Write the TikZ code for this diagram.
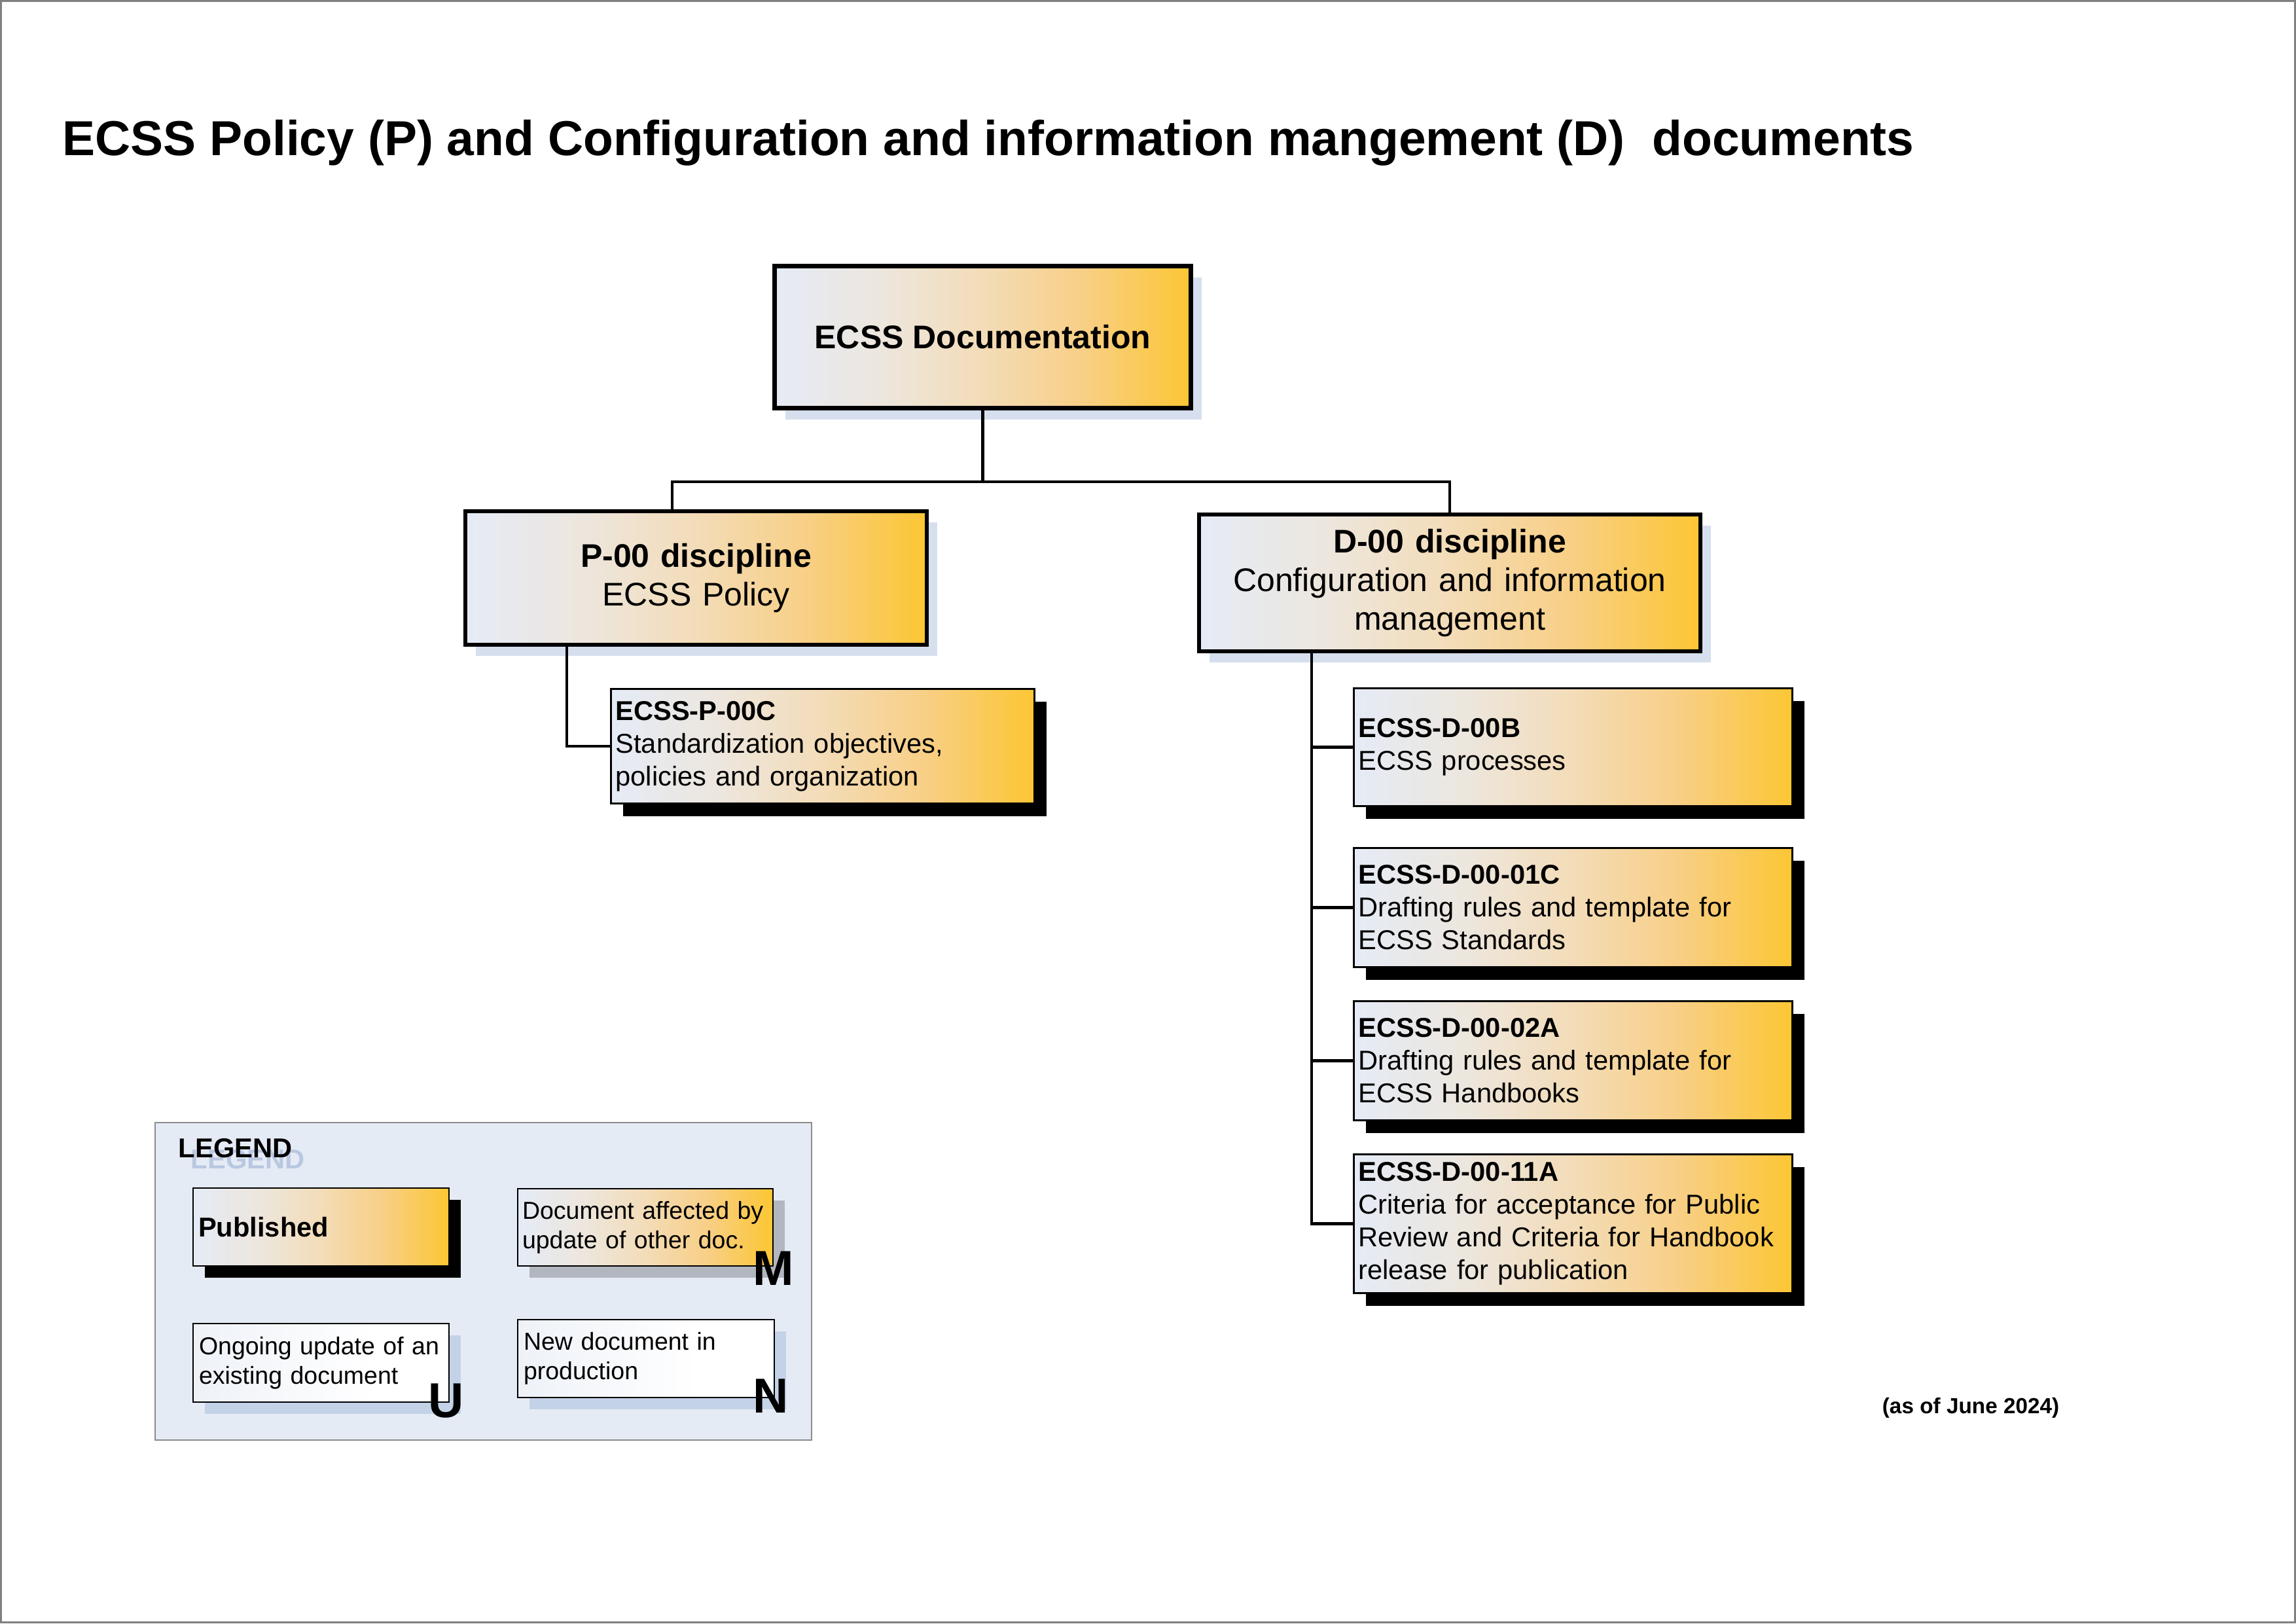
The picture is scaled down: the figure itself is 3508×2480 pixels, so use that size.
\documentclass[tikz,border=0pt]{standalone}
\usepackage{fontspec}
\setmainfont{Liberation Sans}
\usetikzlibrary{shadows}
\definecolor{gA}{HTML}{E5EBF6}
\definecolor{gB}{HTML}{EDE6DD}
\definecolor{gC}{HTML}{F3DCB8}
\definecolor{gD}{HTML}{F8CF86}
\definecolor{gE}{HTML}{FCC633}
\definecolor{wA}{HTML}{EEF2F8}
\definecolor{shblue}{HTML}{D6DFEE}
\definecolor{shlblue}{HTML}{C4D2E8}
\definecolor{shgray}{HTML}{B2B6BE}
\definecolor{legbg}{HTML}{E5EBF5}
\definecolor{legborder}{HTML}{8C8C8C}
\definecolor{legshadow}{HTML}{B9C8E0}
\definecolor{pageline}{HTML}{808080}
\pgfdeclarehorizontalshading{goldfill}{100bp}{color(0bp)=(gA); color(25bp)=(gA); color(38bp)=(gB); color(50bp)=(gC); color(62bp)=(gD); color(75bp)=(gE); color(100bp)=(gE)}
\pgfdeclarehorizontalshading{whitefill}{100bp}{color(0bp)=(wA); color(25bp)=(wA); color(60bp)=(white); color(100bp)=(white)}
\begin{document}
\begin{tikzpicture}[x=0.24pt,y=-0.24pt,
  topbox/.style={draw, line width=1.8pt, shade, shading=goldfill, inner sep=0pt,
    general shadow={shadow xshift=3.84pt, shadow yshift=-4.08pt, fill=shblue},
    font=\fontsize{12}{14.4}\selectfont\bfseries},
  discbox/.style={draw, line width=1.44pt, shade, shading=goldfill, inner sep=0pt, align=center,
    general shadow={shadow xshift=3.84pt, shadow yshift=-4.08pt, fill=shblue},
    font=\fontsize{12}{14.16}\selectfont},
  docbox/.style={draw, line width=0.72pt, shade, shading=goldfill, inner sep=0pt, align=left,
    general shadow={shadow xshift=4.32pt, shadow yshift=-4.56pt, fill=black},
    font=\fontsize{10}{12}\selectfont},
  legbox/.style={draw, line width=0.6pt, inner sep=0pt, align=left,
    font=\fontsize{9}{10.8}\selectfont},
  bigletter/.style={font=\fontsize{18}{21.6}\selectfont\bfseries, inner sep=0pt, anchor=base west},
  conn/.style={line width=1.08pt}
]
\useasboundingbox (0,0) rectangle (3508,2480);
\draw[pageline, line width=0.6pt] (1.5,1.5) rectangle (3506.5,2478.5);

% title
\node[anchor=base west, inner sep=0pt, font=\fontsize{18}{21.6}\selectfont\bfseries] (title) at (94.5,237)
  {ECSS Policy (P) and Configuration and information mangement (D)\ \ documents};

% hierarchy boxes
\node[topbox, minimum width={636*0.24pt}, minimum height={217*0.24pt}] (top) at (1501.5,515) {ECSS Documentation};

\node[discbox, minimum width={705*0.24pt}, minimum height={204*0.24pt}, text width={685*0.24pt}] (p00) at (1063.5,883)
  {\textbf{P-00 discipline}\\ECSS Policy};
\node[discbox, minimum width={766*0.24pt}, minimum height={209*0.24pt}, text width={746*0.24pt}] (d00) at (2215,890.5)
  {\textbf{D-00 discipline}\\Configuration and information\\management};

\node[docbox, minimum width={647*0.24pt}, minimum height={175*0.24pt}, text width={633*0.24pt}] (p00c) at (1257,1140)
  {\textbf{ECSS-P-00C}\\Standardization objectives,\\policies and organization};

\node[docbox, minimum width={670*0.24pt}, minimum height={180*0.24pt}, text width={656*0.24pt}] (d00b) at (2403.5,1141.5)
  {\textbf{ECSS-D-00B}\\ECSS processes};
\node[docbox, minimum width={670*0.24pt}, minimum height={182*0.24pt}, text width={656*0.24pt}] (d01c) at (2403.5,1386.5)
  {\textbf{ECSS-D-00-01C}\\Drafting rules and template for\\ECSS Standards};
\node[docbox, minimum width={670*0.24pt}, minimum height={182*0.24pt}, text width={656*0.24pt}] (d02a) at (2403.5,1620.5)
  {\textbf{ECSS-D-00-02A}\\Drafting rules and template for\\ECSS Handbooks};
\node[docbox, minimum width={670*0.24pt}, minimum height={212*0.24pt}, text width={656*0.24pt}] (d11a) at (2403.5,1869.5)
  {\textbf{ECSS-D-00-11A}\\Criteria for acceptance for Public\\Review and Criteria for Handbook\\release for publication};

% connectors
\coordinate (busL) at (1027,736);
\coordinate (busR) at (2215,736);
\coordinate (pT) at (866,0);
\coordinate (dT) at (2004,0);
\draw[conn] (top.south) -- (top.south |- busL);
\draw[conn] (busL |- p00.north) -- (busL) -- (busR) -- (d00.north);
\draw[conn] (pT |- p00.south) |- (p00c.west);
\draw[conn] (dT |- d00.south) |- (d11a.west);
\draw[conn] (dT |- d00b.west) -- (d00b.west);
\draw[conn] (dT |- d01c.west) -- (d01c.west);
\draw[conn] (dT |- d02a.west) -- (d02a.west);

% legend
\node[draw=legborder, fill=legbg, line width=0.5pt, inner sep=0pt,
  minimum width={1003*0.24pt}, minimum height={485*0.24pt}] (legend) at (738.5,1957.5) {};
\node[anchor=base west, inner sep=0pt, text=legshadow, font=\fontsize{10}{12}\selectfont\bfseries] (legsh) at (291,1785) {LEGEND};
\node[anchor=base west, inner sep=0pt, font=\fontsize{10}{12}\selectfont\bfseries] (legt) at (272,1768) {LEGEND};

\node[legbox, shade, shading=goldfill, general shadow={shadow xshift=4.32pt, shadow yshift=-4.32pt, fill=black},
  minimum width={391*0.24pt}, minimum height={119*0.24pt}, text width={375*0.24pt},
  font=\fontsize{10}{12}\selectfont\bfseries] (lpub) at (490.5,1874.5) {Published};
\node[legbox, shade, shading=goldfill, general shadow={shadow xshift=4.32pt, shadow yshift=-4.32pt, fill=shgray},
  minimum width={390*0.24pt}, minimum height={118*0.24pt}, text width={376*0.24pt}] (lmod) at (986,1875)
  {Document affected by\\update of other doc.};
\node[bigletter] (lm) at (1150,1963) {M};
\node[legbox, shade, shading=whitefill, general shadow={shadow xshift=4.32pt, shadow yshift=-4.32pt, fill=shlblue},
  minimum width={391*0.24pt}, minimum height={120*0.24pt}, text width={373*0.24pt}] (lupd) at (490.5,2082)
  {Ongoing update of an\\existing document};
\node[bigletter] (lu) at (654,2165) {U};
\node[legbox, shade, shading=whitefill, general shadow={shadow xshift=4.32pt, shadow yshift=-4.32pt, fill=shlblue},
  minimum width={392*0.24pt}, minimum height={119*0.24pt}, text width={374*0.24pt}] (lnew) at (987,2075.5)
  {New document in\\production};
\node[bigletter] (ln) at (1150,2158) {N};

% date
\node[anchor=base west, inner sep=0pt, font=\fontsize{8}{9.6}\selectfont\bfseries] (date) at (2875,2159) {(as of June 2024)};
\end{tikzpicture}
\end{document}
